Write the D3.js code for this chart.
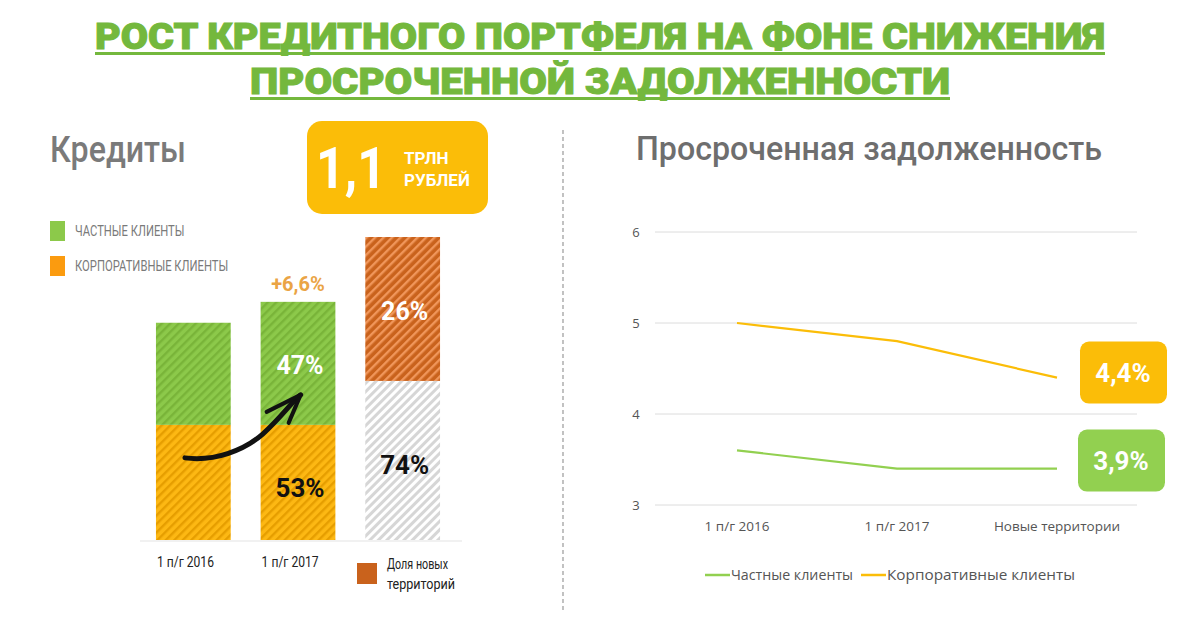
<!DOCTYPE html>
<html><head><meta charset="utf-8">
<script src="https://cdn.jsdelivr.net/npm/d3@7"></script>
<style>
html,body{margin:0;padding:0;background:#fff;}
svg{display:block;}
</style></head>
<body>
<script>
// ---- data ----
const barCategories = ["1 п/г 2016", "1 п/г 2017", "Новые территории"];
const barLowerValues = [38, 38, 52.5];      // corporate / existing territories (relative units)
const barUpperValues = [33.7, 40.6, 47.5];  // private / new territories (relative units)
const barLowerLabels = ["", "53%", "74%"];
const barUpperLabels = ["", "47%", "26%"];
const growthLabel = "+6,6%";
const barXLabels = ["1 п/г 2016", "1 п/г 2017", ""];

const lineCategories = ["1 п/г 2016", "1 п/г 2017", "Новые территории"];
const privateOverdue = [3.6, 3.4, 3.4];
const corporateOverdue = [5.0, 4.8, 4.4];
const lineYTicks = [3, 4, 5, 6];
const endLabels = ["4,4%", "3,9%"];

const W = 1194, H = 636;
const GREEN = "#74b83d", GRAY_T = "#7a7a7a";
const svg = d3.select("body").append("svg").attr("width", W).attr("height", H);
const defs = svg.append("defs");

function hatch(id, bg, fg, w) {
  const p = defs.append("pattern").attr("id", id).attr("patternUnits", "userSpaceOnUse")
    .attr("width", 6).attr("height", 6).attr("patternTransform", "rotate(45)");
  p.append("rect").attr("width", 6).attr("height", 6).attr("fill", bg);
  p.append("rect").attr("width", w).attr("height", 6).attr("fill", fg);
}
hatch("hGreen", "#8cc94a", "#79b439", 2.4);
hatch("hOrange", "#fdb813", "#e69e00", 2.4);
hatch("hBrown", "#c9621c", "#f0965a", 2.4);
hatch("hGray", "#ffffff", "#d6d6d6", 3);

// ---- title ----
const title = [["РОСТ КРЕДИТНОГО ПОРТФЕЛЯ НА ФОНЕ СНИЖЕНИЯ", 49, 95, 1010], ["ПРОСРОЧЕННОЙ ЗАДОЛЖЕННОСТИ", 94, 250, 700]];
title.forEach(([t, y, x, len]) => {
  svg.append("text").attr("x", x).attr("y", y).text(t)
    .attr("font-family", "Roboto, 'Open Sans', sans-serif").attr("font-weight", 900)
    .attr("font-size", 37).attr("fill", GREEN).attr("stroke", GREEN).attr("stroke-width", 1)
    .attr("textLength", len).attr("lengthAdjust", "spacingAndGlyphs");
  svg.append("rect").attr("x", x).attr("y", y + 3).attr("width", len).attr("height", 3).attr("fill", GREEN);
});

// ---- left panel ----
svg.append("text").attr("x", 50).attr("y", 162).text("Кредиты")
  .attr("font-family", "Roboto, sans-serif").attr("font-weight", 500).attr("font-size", 37)
  .attr("fill", GRAY_T).attr("textLength", 136).attr("lengthAdjust", "spacingAndGlyphs");

// yellow box
svg.append("rect").attr("x", 307).attr("y", 121).attr("width", 181).attr("height", 93).attr("rx", 15).attr("fill", "#fbbd08");
svg.append("text").attr("x", 316).attr("y", 188).text("1,1").attr("font-family", "Roboto, sans-serif")
  .attr("font-weight", 700).attr("font-size", 58).attr("fill", "#fff").attr("textLength", 70).attr("lengthAdjust", "spacingAndGlyphs");
svg.append("text").attr("x", 404).attr("y", 164).text("ТРЛН").attr("font-family", "Roboto, sans-serif")
  .attr("font-weight", 700).attr("font-size", 17).attr("fill", "#fff");
svg.append("text").attr("x", 404).attr("y", 186).text("РУБЛЕЙ").attr("font-family", "Roboto, sans-serif")
  .attr("font-weight", 700).attr("font-size", 17).attr("fill", "#fff");

// legend
[["ЧАСТНЫЕ КЛИЕНТЫ", "#8cc94a", 221], ["КОРПОРАТИВНЫЕ КЛИЕНТЫ", "#fb9b0f", 256]].forEach(([t, c, y]) => {
  svg.append("rect").attr("x", 50).attr("y", y).attr("width", 15).attr("height", 20).attr("fill", c);
  svg.append("text").attr("x", 75).attr("y", y + 15).text(t).attr("font-family", "Roboto, sans-serif")
    .attr("font-size", 14).attr("fill", GRAY_T).attr("textLength", t.length * 7.3).attr("lengthAdjust", "spacingAndGlyphs");
});

const xb = d3.scaleBand().domain(barCategories).range([141, 455]).paddingInner(0.2857).paddingOuter(0.1429);
const yb = d3.scaleLinear().domain([0, 100]).range([540, 237]);

// baseline
svg.append("line").attr("x1", 140).attr("x2", 462).attr("y1", 541).attr("y2", 541).attr("stroke", "#e3e3e3").attr("stroke-width", 1);

const lowerFill = ["url(#hOrange)", "url(#hOrange)", "url(#hGray)"];
const upperFill = ["url(#hGreen)", "url(#hGreen)", "url(#hBrown)"];
const bars = barCategories.map((c, i) => ({c, lo: barLowerValues[i], up: barUpperValues[i], i}));
svg.selectAll(".lo").data(bars).join("rect").attr("x", d => xb(d.c)).attr("width", xb.bandwidth())
  .attr("y", d => yb(d.lo)).attr("height", d => yb(0) - yb(d.lo)).attr("fill", d => lowerFill[d.i]);
svg.selectAll(".up").data(bars).join("rect").attr("x", d => xb(d.c)).attr("width", xb.bandwidth())
  .attr("y", d => yb(d.lo + d.up)).attr("height", d => yb(d.lo) - yb(d.lo + d.up)).attr("fill", d => upperFill[d.i]);

const lblFont = "Roboto, sans-serif";
bars.forEach(d => {
  const cx = xb(d.c) + xb.bandwidth() / 2 + 2;
  if (barUpperLabels[d.i]) svg.append("text").attr("x", cx).attr("y", (yb(d.lo) + yb(d.lo + d.up)) / 2 + 11)
    .attr("text-anchor", "middle").text(barUpperLabels[d.i]).attr("font-family", lblFont).attr("font-weight", 700)
    .attr("font-size", 25).attr("fill", "#fff");
  if (barLowerLabels[d.i]) svg.append("text").attr("x", cx).attr("y", d.i === 1 ? yb(d.lo) + 72 : yb(d.lo) + 93)
    .attr("text-anchor", "middle").text(barLowerLabels[d.i]).attr("font-family", lblFont).attr("font-weight", 700)
    .attr("font-size", 26).attr("fill", "#111");
});
svg.append("text").attr("x", xb(barCategories[1]) + xb.bandwidth() / 2).attr("y", yb(barLowerValues[1] + barUpperValues[1]) - 11)
  .attr("text-anchor", "middle").text(growthLabel).attr("font-family", lblFont).attr("font-weight", 700)
  .attr("font-size", 20).attr("fill", "#eaa445");

barXLabels.forEach((t, i) => {
  if (!t) return;
  svg.append("text").attr("x", xb(barCategories[i]) + 1).attr("y", 567)
    .text(t).attr("font-family", lblFont).attr("font-size", 14).attr("fill", "#222")
    .attr("textLength", 57).attr("lengthAdjust", "spacingAndGlyphs");
});
svg.append("rect").attr("x", 357).attr("y", 563).attr("width", 20).attr("height", 21).attr("fill", "#c9621c");
svg.append("text").attr("x", 387).attr("y", 569).text("Доля новых").attr("font-family", lblFont).attr("font-size", 14).attr("fill", "#222")
  .attr("textLength", 61).attr("lengthAdjust", "spacingAndGlyphs");
svg.append("text").attr("x", 387).attr("y", 589).text("территорий").attr("font-family", lblFont).attr("font-size", 14).attr("fill", "#222")
  .attr("textLength", 68).attr("lengthAdjust", "spacingAndGlyphs");

// hand-drawn arrow
const a0 = [xb(barCategories[0]) + 29, yb(barLowerValues[0]) + 33];
const a1 = [xb(barCategories[1]) + 40, yb(barLowerValues[1]) - 30];
svg.append("path").attr("d", `M${a0[0]},${a0[1]} C${a0[0] + 30},${a0[1] + 4} ${a0[0] + 60},${a0[1] - 8} ${a0[0] + 78},${a0[1] - 24} S${a1[0] - 8},${a1[1] + 6} ${a1[0]},${a1[1]}`)
  .attr("fill", "none").attr("stroke", "#111").attr("stroke-width", 5).attr("stroke-linecap", "round");
svg.append("path").attr("d", `M${a1[0] - 34},${a1[1] + 17} L${a1[0]},${a1[1]} L${a1[0] - 12},${a1[1] + 28}`)
  .attr("fill", "none").attr("stroke", "#111").attr("stroke-width", 4).attr("stroke-linecap", "round").attr("stroke-linejoin", "round");

// separator
svg.append("line").attr("x1", 563).attr("x2", 563).attr("y1", 130).attr("y2", 612)
  .attr("stroke", "#999").attr("stroke-width", 1.2).attr("stroke-dasharray", "4,3");

// ---- right panel ----
svg.append("text").attr("x", 636).attr("y", 160).text("Просроченная задолженность")
  .attr("font-family", "Roboto, sans-serif").attr("font-weight", 500).attr("font-size", 34).attr("fill", "#6e6e6e")
  .attr("textLength", 466).attr("lengthAdjust", "spacingAndGlyphs");

const xl = d3.scalePoint().domain(lineCategories).range([657, 1137]).padding(0.5);
const yl = d3.scaleLinear().domain([3, 6]).range([505, 232]);
const g = svg.append("g");
lineYTicks.forEach(v => {
  g.append("line").attr("x1", 655).attr("x2", 1137).attr("y1", yl(v)).attr("y2", yl(v)).attr("stroke", "#dcdcdc").attr("stroke-width", 1);
  g.append("text").attr("x", 636).attr("y", yl(v) + 5).attr("text-anchor", "middle").text(v)
    .attr("font-family", "'Open Sans', sans-serif").attr("font-size", 13).attr("fill", "#555");
});
lineCategories.forEach(c => {
  g.append("text").attr("x", xl(c)).attr("y", 531).attr("text-anchor", "middle").text(c)
    .attr("font-family", "'Open Sans', sans-serif").attr("font-size", 13.5).attr("fill", "#555");
});
const line = d3.line().x((d, i) => xl(lineCategories[i])).y(d => yl(d));
g.append("path").datum(corporateOverdue).attr("d", line).attr("fill", "none").attr("stroke", "#fbbd08").attr("stroke-width", 2.2);
g.append("path").datum(privateOverdue).attr("d", line).attr("fill", "none").attr("stroke", "#92d050").attr("stroke-width", 2.2);

// legend
[["Частные клиенты", "#92d050", 705, 122], ["Корпоративные клиенты", "#fbbd08", 861, 188]].forEach(([t, c, x, len]) => {
  g.append("line").attr("x1", x).attr("x2", x + 25).attr("y1", 575).attr("y2", 575).attr("stroke", c).attr("stroke-width", 2.5);
  g.append("text").attr("x", x + 26).attr("y", 580).text(t).attr("font-family", "'Open Sans', sans-serif")
    .attr("font-size", 14).attr("fill", "#555").attr("textLength", len).attr("lengthAdjust", "spacingAndGlyphs");
});

// end value boxes
[[endLabels[0], "#fbbd08", corporateOverdue[2], 1080], [endLabels[1], "#92d050", privateOverdue[2], 1078]].forEach(([t, c, v, x], k) => {
  const cy = k === 0 ? yl(v) - 5 : yl(v) - 8;
  g.append("rect").attr("x", x).attr("y", cy - 31).attr("width", 87).attr("height", 62).attr("rx", 9).attr("fill", c);
  g.append("text").attr("x", x + 43).attr("y", cy + 9).attr("text-anchor", "middle").text(t)
    .attr("font-family", "Roboto, sans-serif").attr("font-weight", 700).attr("font-size", 26).attr("fill", "#fff");
});
</script>
</body></html>
